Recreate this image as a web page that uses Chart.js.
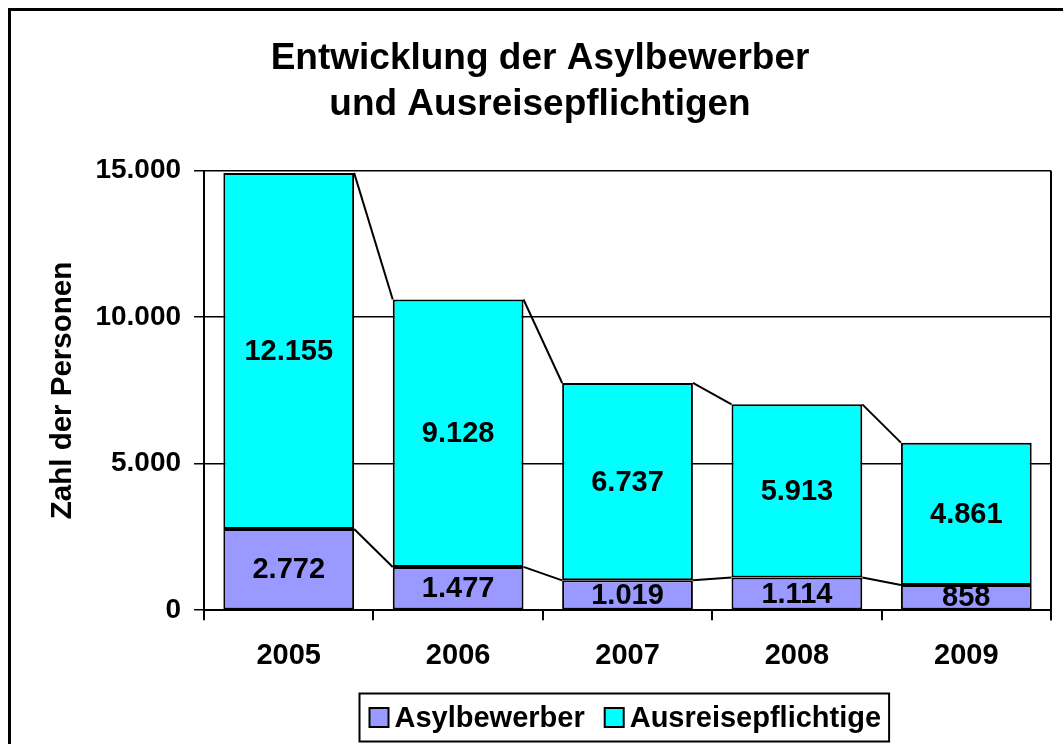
<!DOCTYPE html>
<html>
<head>
<meta charset="utf-8">
<script src="https://cdn.jsdelivr.net/npm/chart.js@4"></script>
<style>
html, body { margin: 0; padding: 0; background: #fff; }
</style>
</head>
<body>
<canvas id="chart" width="1063" height="744"></canvas>
<script>
const years = ['2005', '2006', '2007', '2008', '2009'];
const asylbewerber = [2772, 1477, 1019, 1114, 858];
const ausreisepflichtige = [12155, 9128, 6737, 5913, 4861];
const seriesNames = ['Asylbewerber', 'Ausreisepflichtige'];
const seriesColors = ['#9999ff', '#00ffff'];
const titleLines = ['Entwicklung der Asylbewerber', 'und Ausreisepflichtigen'];
const FONT = '"Liberation Sans", Arial, sans-serif';

// German thousands separator
function fmt(v) {
    return String(v).replace(/\B(?=(\d{3})+(?!\d))/g, '.');
}

// --- outer frame (left + top edge visible, rest runs off the canvas) ---
const framePlugin = {
    id: 'frame',
    beforeDraw(chart) {
        const ctx = chart.ctx;
        ctx.save();
        ctx.lineWidth = 3;
        ctx.strokeStyle = '#000';
        ctx.strokeRect(9.5, 9.5, chart.width + 20, chart.height + 20);
        ctx.restore();
    }
};

// --- Excel style series lines between stacked bars ---
const seriesLinesPlugin = {
    id: 'seriesLines',
    afterDatasetsDraw(chart) {
        const ctx = chart.ctx;
        ctx.save();
        ctx.lineWidth = 2;
        ctx.strokeStyle = '#000';
        chart.data.datasets.forEach((ds, i) => {
            const bars = chart.getDatasetMeta(i).data;
            for (let k = 0; k < bars.length - 1; k++) {
                const a = bars[k], b = bars[k + 1];
                ctx.beginPath();
                ctx.moveTo(a.x + a.width / 2, a.y);
                ctx.lineTo(b.x - b.width / 2, b.y);
                ctx.stroke();
            }
        });
        ctx.restore();
    }
};

// --- value labels centered in each segment ---
const valueLabelsPlugin = {
    id: 'valueLabels',
    afterDatasetsDraw(chart) {
        const ctx = chart.ctx;
        ctx.save();
        ctx.font = 'bold 29px ' + FONT;
        ctx.fillStyle = '#000';
        ctx.textAlign = 'center';
        ctx.textBaseline = 'middle';
        chart.data.datasets.forEach((ds, i) => {
            chart.getDatasetMeta(i).data.forEach((bar, k) => {
                ctx.fillText(fmt(ds.data[k]), bar.x, (bar.y + bar.base) / 2 + 1);
            });
        });
        ctx.restore();
    }
};

// --- right border of plot area + legend with frame ---
const extrasPlugin = {
    id: 'extras',
    afterDraw(chart) {
        const ctx = chart.ctx;
        const a = chart.chartArea;
        ctx.save();
        ctx.strokeStyle = '#000';
        ctx.lineWidth = 2;
        ctx.beginPath();
        ctx.moveTo(a.right, a.top);
        ctx.lineTo(a.right, a.bottom + 10);
        ctx.stroke();

        // legend
        ctx.font = 'bold 29px ' + FONT;
        const sw = 19, gapText = 6, gapItem = 20, padL = 10, padR = 8;
        const widths = seriesNames.map(n => ctx.measureText(n).width);
        const total = padL + padR + widths.reduce((s, w) => s + sw + gapText + w, 0) + gapItem * (seriesNames.length - 1);
        const cx = (a.left + a.right) / 2 - 4;
        const x0 = Math.round(cx - total / 2) + 0.5;
        const y0 = 693.5, h = 48;
        ctx.fillStyle = '#fff';
        ctx.fillRect(x0, y0, total, h);
        ctx.strokeRect(x0, y0, total, h);
        const cy = y0 + h / 2;
        let x = x0 + padL;
        seriesNames.forEach((n, i) => {
            ctx.fillStyle = seriesColors[i];
            ctx.fillRect(x, cy - sw / 2, sw, sw);
            ctx.strokeRect(x, cy - sw / 2, sw, sw);
            x += sw + gapText;
            ctx.fillStyle = '#000';
            ctx.textAlign = 'left';
            ctx.textBaseline = 'middle';
            ctx.fillText(n, x, cy + 1);
            x += widths[i] + gapItem;
        });
        ctx.restore();
    }
};

const ctx = document.getElementById('chart').getContext('2d');
new Chart(ctx, {
    type: 'bar',
    data: {
        labels: years,
        datasets: [{
            label: seriesNames[0],
            data: asylbewerber,
            backgroundColor: seriesColors[0]
        }, {
            label: seriesNames[1],
            data: ausreisepflichtige,
            backgroundColor: seriesColors[1]
        }]
    },
    options: {
        responsive: false,
        animation: false,
        layout: { padding: { top: 0, left: 29, right: 12, bottom: 53 } },
        datasets: {
            bar: {
                borderColor: '#000',
                borderWidth: 2,
                borderSkipped: false,
                categoryPercentage: 1,
                barPercentage: 0.772
            }
        },
        plugins: {
            legend: { display: false },
            tooltip: { enabled: false },
            title: {
                display: true,
                text: titleLines,
                color: '#000',
                font: { family: FONT, size: 37, weight: 'bold', lineHeight: 1.24 },
                padding: { top: 36, bottom: 43 }
            }
        },
        scales: {
            x: {
                stacked: true,
                grid: { offset: true, drawOnChartArea: false, color: '#000', lineWidth: 2, tickLength: 10 },
                border: { color: '#000', width: 2 },
                ticks: { color: '#000', padding: 18, font: { family: FONT, size: 29, weight: 'bold' } }
            },
            y: {
                stacked: true,
                min: 0,
                max: 15000,
                grid: { color: '#000', lineWidth: 1.5, tickLength: 10 },
                border: { color: '#000', width: 2 },
                ticks: {
                    stepSize: 5000,
                    color: '#000',
                    padding: 13,
                    font: { family: FONT, size: 28, weight: 'bold' },
                    callback: v => fmt(v)
                },
                title: {
                    display: true,
                    text: 'Zahl der Personen',
                    color: '#000',
                    padding: { top: 16, bottom: 2 },
                    font: { family: FONT, size: 29.5, weight: 'bold' }
                }
            }
        }
    },
    plugins: [framePlugin, seriesLinesPlugin, valueLabelsPlugin, extrasPlugin]
});
</script>
</body>
</html>
